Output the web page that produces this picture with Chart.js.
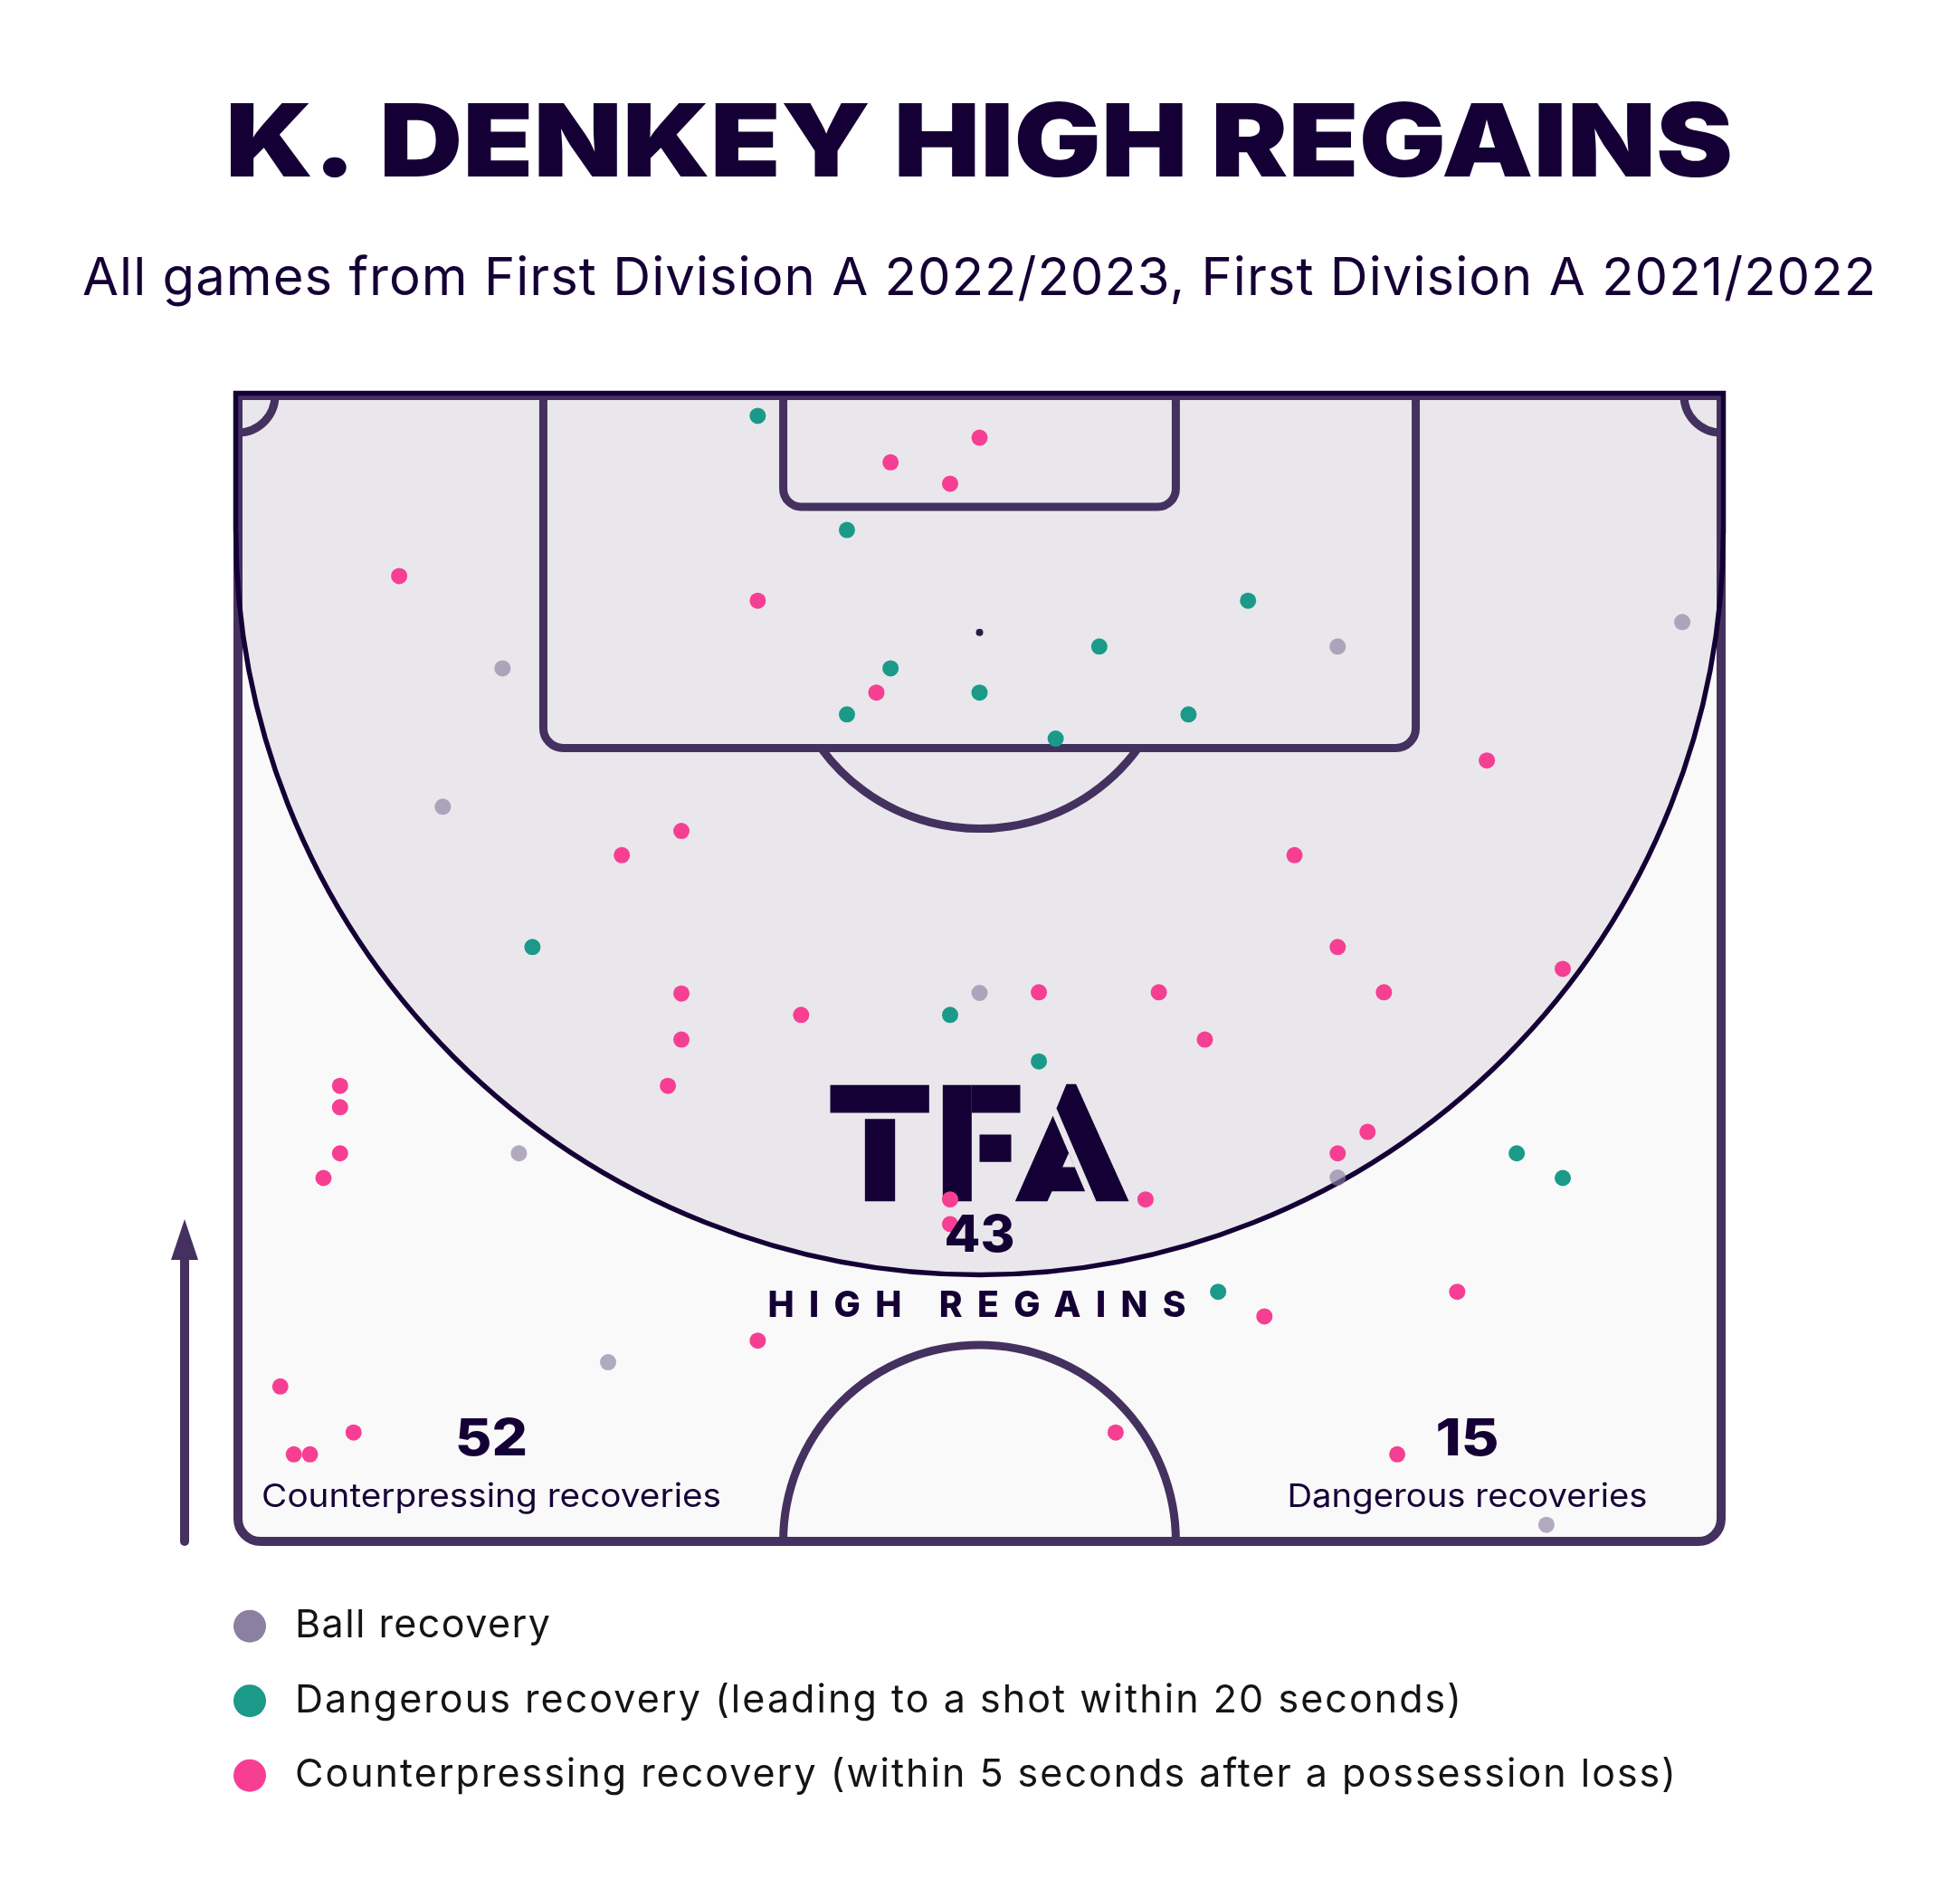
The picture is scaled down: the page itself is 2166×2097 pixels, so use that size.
<!DOCTYPE html>
<html>
<head>
<meta charset="utf-8">
<title>K. Denkey high regains</title>
<script src="https://cdn.jsdelivr.net/npm/chart.js@4.4.1/dist/chart.umd.min.js"></script>
<style>
  html, body { margin: 0; padding: 0; background: #ffffff; overflow: hidden; }
  #wrap { width: 2166px; height: 2097px; }
</style>
</head>
<body>
<div id="wrap"><canvas id="chart" width="2166" height="2097"></canvas></div>
<script>
// pitch in metres: x across the pitch (0-68), y measured down from the goal line (0-52.5)
var ballRecoveryX = [12.13, 9.39, 34.0, 12.88, 16.97, 50.42, 66.22, 50.42, 59.99];
var ballRecoveryY = [12.50, 18.84, 27.37, 34.72, 44.29, 11.50, 10.38, 35.83, 51.74];

var dangerousX = [23.83, 27.92, 29.92, 34.0, 27.92, 13.50, 46.31, 39.49, 43.58, 37.49, 32.65, 36.72, 58.63, 60.74, 44.94];
var dangerousY = [0.93, 6.16, 12.50, 13.61, 14.61, 25.27, 9.40, 11.50, 14.61, 15.72, 28.38, 30.51, 34.72, 35.85, 41.06];

var counterX = [34.0, 29.92, 32.65, 7.39, 23.83, 29.27, 20.33, 17.60, 20.33, 25.82,
                20.33, 4.68, 19.71, 4.68, 4.68, 3.92, 32.65, 32.65, 23.83, 1.94,
                5.30, 2.56, 3.30, 57.26, 48.44, 50.42, 60.74, 36.72, 42.22, 52.54,
                44.33, 51.79, 50.42, 41.61, 47.06, 55.90, 40.24, 53.15];
var counterY = [1.93, 3.06, 4.04, 8.27, 9.40, 13.61, 19.95, 21.06, 27.40, 28.38,
                29.51, 31.63, 31.63, 32.61, 34.72, 35.85, 36.83, 37.96, 43.30, 45.40,
                47.51, 48.51, 48.51, 16.72, 21.06, 25.27, 26.27, 27.34, 27.34, 27.34,
                29.51, 33.74, 34.72, 36.83, 42.19, 41.06, 47.51, 48.51];

var seriesNames = ['Ball recovery',
                   'Dangerous recovery (leading to a shot within 20 seconds)',
                   'Counterpressing recovery (within 5 seconds after a possession loss)'];

var highRegains = 43;
var counterpressingRecoveries = 52;
var dangerousRecoveries = 15;

var titleText = 'K. DENKEY HIGH REGAINS';
var subtitleText = 'All games from First Division A 2022/2023, First Division A 2021/2022';

var DARK = '#150035';
var LINE = '#44315f';

function toPoints(xs, ys) {
    var out = [];
    for (var i = 0; i < xs.length; i += 1) {
        out.push({x: xs[i], y: ys[i]});
    }
    return out;
}

// draw text so that it spans a given width, by spreading the letters
function fitText(ctx, text, left, baseline, width, font, color) {
    ctx.font = font;
    ctx.letterSpacing = '0px';
    var w = ctx.measureText(text).width;
    var gap = (width - w) / Math.max(text.length - 1, 1);
    ctx.letterSpacing = gap + 'px';
    ctx.fillStyle = color;
    ctx.textAlign = 'left';
    ctx.textBaseline = 'alphabetic';
    ctx.fillText(text, left, baseline);
    ctx.letterSpacing = '0px';
}

// same idea, but stretch the glyphs instead of the gaps
function stretchText(ctx, text, cx, baseline, width, font, color) {
    ctx.font = font;
    ctx.letterSpacing = '0px';
    var w = ctx.measureText(text).width;
    ctx.save();
    ctx.translate(cx - width / 2, baseline);
    ctx.scale(width / w, 1);
    ctx.fillStyle = color;
    ctx.textAlign = 'left';
    ctx.textBaseline = 'alphabetic';
    ctx.fillText(text, 0, 0);
    ctx.restore();
}

function centreText(ctx, text, cx, baseline, width, font, color) {
    fitText(ctx, text, cx - width / 2, baseline, width, font, color);
}

function drawLogo(ctx, x0, y0, s) {
    var shapes = [
        [[0, 3], [328, 3], [328, 95], [0, 95]],
        [[115, 115], [215, 115], [215, 388], [115, 388]],
        [[373, 3], [469, 3], [469, 388], [373, 388]],
        [[469, 3], [630, 3], [630, 95], [469, 95]],
        [[495, 167], [600, 167], [600, 258], [495, 258]],
        [[783, 0], [815, 0], [990, 388], [882, 388], [750, 80]]
    ];
    ctx.fillStyle = DARK;
    shapes.forEach(function (pts) {
        ctx.beginPath();
        ctx.moveTo(x0 + pts[0][0] * s, y0 + pts[0][1] * s);
        for (var i = 1; i < pts.length; i += 1) {
            ctx.lineTo(x0 + pts[i][0] * s, y0 + pts[i][1] * s);
        }
        ctx.closePath();
        ctx.fill();
    });
    // left leg of the A with its counter
    var leg = [[738, 105], [845, 355], [735, 355], [720, 388], [613, 388]];
    var hole = [[770, 275], [811, 275], [791, 228]];
    ctx.beginPath();
    [leg, hole].forEach(function (pts) {
        ctx.moveTo(x0 + pts[0][0] * s, y0 + pts[0][1] * s);
        for (var i = 1; i < pts.length; i += 1) {
            ctx.lineTo(x0 + pts[i][0] * s, y0 + pts[i][1] * s);
        }
        ctx.closePath();
    });
    ctx.fill('evenodd');
}

var pitchPlugin = {
    id: 'pitch',
    beforeDatasetsDraw: function (chart) {
        var ctx = chart.ctx;
        var xs = chart.scales.x, ys = chart.scales.y;
        var X = function (v) { return xs.getPixelForValue(v); };
        var Y = function (v) { return ys.getPixelForValue(v); };
        var m = xs.width / 68;
        var left = X(0), right = X(68), top = Y(0), bottom = Y(52.5);
        var r = 25;

        ctx.save();
        // pitch surface
        ctx.fillStyle = '#f9f9f9';
        ctx.fillRect(left, top, right - left, bottom - top);

        // high regain zone
        var zcY = Y(6.2), zr = 34.1 * m;
        ctx.beginPath();
        ctx.moveTo(left - 2.5, top - 2.5);
        ctx.lineTo(right + 2.5, top - 2.5);
        ctx.lineTo(right + 2.5, zcY);
        ctx.arc(X(34), zcY, zr, 0, Math.PI, false);
        ctx.closePath();
        ctx.fillStyle = '#e9e7ec';
        ctx.fill();

        // markings
        ctx.strokeStyle = LINE;
        ctx.lineWidth = 9;
        ctx.lineJoin = 'round';
        ctx.lineCap = 'butt';

        function openBox(x1, x2, depth, rad) {
            ctx.beginPath();
            ctx.moveTo(X(x1), top);
            ctx.arcTo(X(x1), Y(depth), X(x2), Y(depth), rad);
            ctx.arcTo(X(x2), Y(depth), X(x2), top, rad);
            ctx.lineTo(X(x2), top);
            ctx.stroke();
        }
        openBox(14, 54, 16.15, 22);
        openBox(25, 43, 5.1, 20);

        // penalty arc outside the box
        var a = Math.asin((16.15 - 10.85) / 9.0);
        ctx.beginPath();
        ctx.arc(X(34), Y(10.85), 9.0 * m, a, Math.PI - a, false);
        ctx.stroke();

        // corner arcs
        ctx.beginPath();
        ctx.arc(left, top, 1.7 * m, 0, Math.PI / 2, false);
        ctx.stroke();
        ctx.beginPath();
        ctx.arc(right, top, 1.7 * m, Math.PI / 2, Math.PI, false);
        ctx.stroke();

        // centre circle
        ctx.beginPath();
        ctx.arc(X(34), bottom, 9.0 * m, Math.PI, 2 * Math.PI, false);
        ctx.stroke();

        // penalty spot
        ctx.beginPath();
        ctx.arc(X(34), Y(10.85), 4, 0, 2 * Math.PI);
        ctx.fillStyle = '#2b1a47';
        ctx.fill();

        // outer line
        ctx.lineWidth = 10;
        ctx.lineJoin = 'miter';
        ctx.beginPath();
        ctx.moveTo(left, top);
        ctx.lineTo(left, bottom - r);
        ctx.arcTo(left, bottom, left + r, bottom, r);
        ctx.lineTo(right - r, bottom);
        ctx.arcTo(right, bottom, right, bottom - r, r);
        ctx.lineTo(right, top);
        ctx.closePath();
        ctx.stroke();

        // zone outline
        ctx.beginPath();
        ctx.rect(0, 0, chart.width, bottom);
        ctx.clip();
        ctx.beginPath();
        ctx.moveTo(left - 2.5, zcY);
        ctx.lineTo(left - 2.5, top - 2.5);
        ctx.lineTo(right + 2.5, top - 2.5);
        ctx.lineTo(right + 2.5, zcY);
        ctx.arc(X(34), zcY, zr, 0, Math.PI, false);
        ctx.strokeStyle = DARK;
        ctx.lineWidth = 5.5;
        ctx.stroke();
        ctx.restore();

        ctx.save();
        drawLogo(ctx, X(34) - 165, Y(31.55), 1 / 3);
        ctx.restore();
    },
    afterDatasetsDraw: function (chart) {
        var ctx = chart.ctx;
        var xs = chart.scales.x, ys = chart.scales.y;
        var X = function (v) { return xs.getPixelForValue(v); };
        var Y = function (v) { return ys.getPixelForValue(v); };
        ctx.save();
        stretchText(ctx, String(highRegains), X(34), Y(39.25), 78, '800 56px Inter', DARK);
        centreText(ctx, 'HIGH REGAINS', X(34) - 3, Y(42.22), 462, '800 39px Inter', DARK);
        stretchText(ctx, String(counterpressingRecoveries), X(11.62), Y(48.57), 80, '800 56px Inter', DARK);
        stretchText(ctx, 'Counterpressing recoveries', X(11.62), Y(50.94), 508, '400 36px Inter', DARK);
        stretchText(ctx, String(dangerousRecoveries), X(56.36), Y(48.57), 70, '800 56px Inter', DARK);
        stretchText(ctx, 'Dangerous recoveries', X(56.36), Y(50.94), 398, '400 36px Inter', DARK);
        ctx.restore();
    },
    afterDraw: function (chart) {
        var ctx = chart.ctx;
        ctx.save();
        stretchText(ctx, titleText, 249 + 1666 / 2, 195, 1666, '900 112px Inter', DARK);
        fitText(ctx, subtitleText, 91, 326, 1982, '400 58px Inter', DARK);

        // direction of play arrow
        ctx.strokeStyle = LINE;
        ctx.fillStyle = LINE;
        ctx.lineWidth = 10;
        ctx.lineCap = 'round';
        ctx.beginPath();
        ctx.moveTo(204, 1703);
        ctx.lineTo(204, 1385);
        ctx.stroke();
        ctx.beginPath();
        ctx.moveTo(204, 1347);
        ctx.lineTo(219, 1392);
        ctx.lineTo(189, 1392);
        ctx.closePath();
        ctx.fill();

        // legend
        var widths = [282, 1289, 1526];
        chart.data.datasets.forEach(function (ds, i) {
            var cy = 1796.7 + i * 82.5;
            ctx.beginPath();
            ctx.arc(276, cy, 18, 0, 2 * Math.PI);
            ctx.fillStyle = ds.legendColor;
            ctx.fill();
            fitText(ctx, ds.label, 326, cy + 12.6, widths[i], '400 43px Inter', '#141414');
        });
        ctx.restore();
    }
};

var ctx = document.getElementById('chart').getContext('2d');
var chart = new Chart(ctx, {
    type: 'scatter',
    data: {
        datasets: [{
            label: seriesNames[0],
            data: toPoints(ballRecoveryX, ballRecoveryY),
            backgroundColor: 'rgba(139, 127, 160, 0.65)',
            legendColor: '#8b80a1',
            pointRadius: 9,
            borderWidth: 0,
            order: 3
        }, {
            label: seriesNames[1],
            data: toPoints(dangerousX, dangerousY),
            backgroundColor: '#1b9a89',
            legendColor: '#1b9a89',
            pointRadius: 9,
            borderWidth: 0,
            order: 2
        }, {
            label: seriesNames[2],
            data: toPoints(counterX, counterY),
            backgroundColor: '#f63f93',
            legendColor: '#f63f93',
            pointRadius: 9,
            borderWidth: 0,
            order: 1
        }]
    },
    options: {
        responsive: false,
        animation: false,
        devicePixelRatio: 1,
        layout: {
            padding: {left: 263, top: 437, right: 264, bottom: 394}
        },
        scales: {
            x: {type: 'linear', min: 0, max: 68, display: false},
            y: {type: 'linear', min: 0, max: 52.5, reverse: true, display: false}
        },
        plugins: {
            legend: {display: false},
            tooltip: {enabled: false},
            title: {display: false}
        },
        events: []
    },
    plugins: [pitchPlugin]
});
</script>
</body>
</html>
